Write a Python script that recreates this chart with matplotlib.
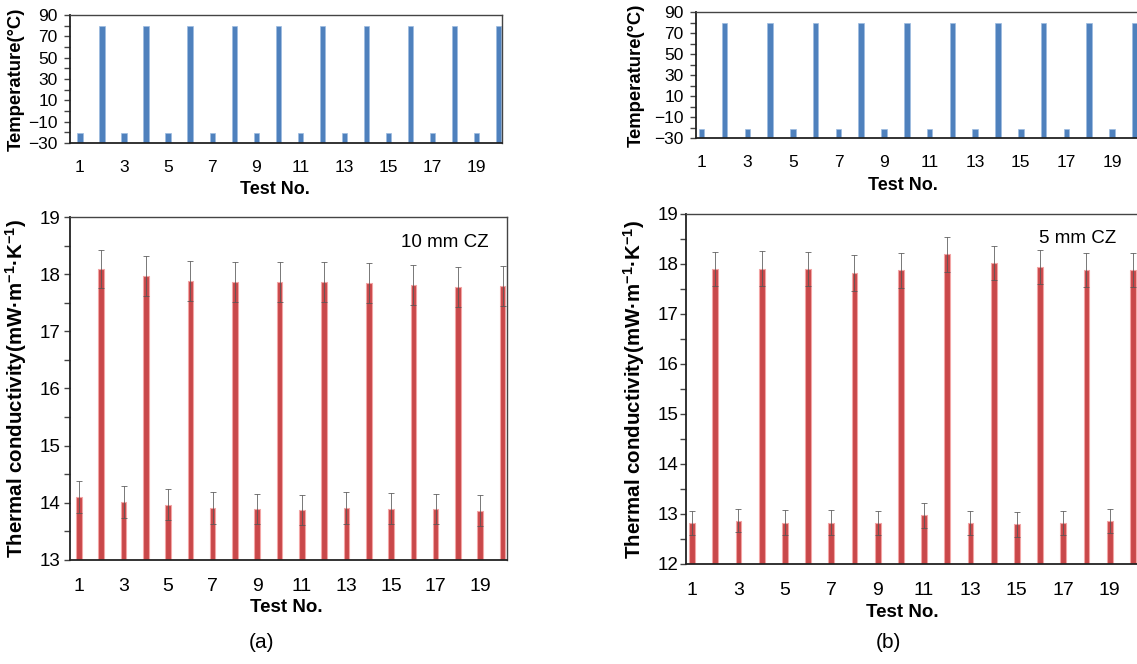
import matplotlib
matplotlib.use("Agg")
import matplotlib.pyplot as plt
from matplotlib.ticker import MultipleLocator

plt.rcParams['font.family'] = ['Liberation Sans', 'DejaVu Sans']
plt.rcParams['mathtext.fontset'] = 'custom'
plt.rcParams['mathtext.rm'] = 'Liberation Sans:bold'
plt.rcParams['mathtext.bf'] = 'Liberation Sans:bold'
plt.rcParams['mathtext.it'] = 'Liberation Sans:bold'

# ---------------- data ----------------
tests = list(range(1, 21))
temp_a = [-21, 80, -21, 80, -21, 80, -21, 80, -21, 80, -21, 80, -21, 80, -21, 80, -21, 80, -21, 80]
temp_b = [-21, 80, -21, 80, -21, 80, -21, 80, -21, 80, -21, 80, -21, 80, -21, 80, -21, 80, -21, 80]

tc_a = [14.10, 18.09, 14.01, 17.96, 13.97, 17.88, 13.91, 17.86, 13.89, 17.87,
        13.88, 17.86, 13.91, 17.84, 13.90, 17.81, 13.89, 17.78, 13.86, 17.79]
err_a = [0.28, 0.34, 0.28, 0.35, 0.27, 0.35, 0.28, 0.35, 0.26, 0.35,
         0.26, 0.35, 0.28, 0.35, 0.27, 0.35, 0.26, 0.35, 0.27, 0.35]

tc_b = [12.83, 17.91, 12.87, 17.91, 12.83, 17.91, 12.83, 17.82, 12.82, 17.87,
        12.98, 18.20, 12.82, 18.01, 12.80, 17.95, 12.82, 17.88, 12.86, 17.88]
err_b = [0.24, 0.34, 0.23, 0.35, 0.25, 0.34, 0.25, 0.35, 0.24, 0.35,
         0.25, 0.35, 0.24, 0.34, 0.25, 0.34, 0.24, 0.34, 0.24, 0.34]

xticks = [1, 3, 5, 7, 9, 11, 13, 15, 17, 19]
temp_ticks = [-30, -10, 10, 30, 50, 70, 90]

BLUE = '#4F81BD'
RED = '#C9484A'
RED_EDGE = '#F3A5A5'

W, H = 1137, 664
fig = plt.figure(figsize=(W / 100, H / 100), dpi=100)


def rect(l, t, r, b):
    return [l / W, 1 - b / H, (r - l) / W, (b - t) / H]


def style(ax, xfs, yfs, ypad, xpad):
    for s in ['left', 'bottom']:
        ax.spines[s].set_color('#222222')
        ax.spines[s].set_linewidth(1.3)
    for s in ['top', 'right']:
        ax.spines[s].set_color('#444444')
        ax.spines[s].set_linewidth(1.0)
    ax.tick_params(axis='x', length=0, labelsize=xfs, pad=xpad)
    ax.tick_params(axis='y', which='major', length=4, width=1, color='#444444',
                   labelsize=yfs, pad=ypad, direction='out')
    ax.tick_params(axis='y', which='minor', length=4, width=1, color='#444444', direction='out')


# ---- (a) top
ax1 = fig.add_axes(rect(70, 15, 502, 143))
ax1.bar(tests, [t + 30 for t in temp_a], bottom=-30, width=0.24, color=BLUE,
        edgecolor='#9DBBE0', linewidth=0.5)
ax1.set_ylim(-30, 90)
ax1.set_xlim(0.55, 20.15)
ax1.set_yticks(temp_ticks)
ax1.yaxis.set_minor_locator(MultipleLocator(10))
ax1.set_xticks(xticks)
style(ax1, 12.5, 12.5, 5, 12)
ax1.set_ylabel('Temperature(°C)', fontsize=13.3, fontweight='bold')
ax1.yaxis.set_label_coords(-0.104, 0.5)
ax1.set_xlabel('Test No.', fontsize=13, fontweight='bold', va='top')
ax1.xaxis.set_label_coords(0.475, -0.30)

# ---- (a) bottom
ax2 = fig.add_axes(rect(70, 217, 507, 560))
ax2.bar(tests, [v - 13 for v in tc_a], bottom=13, width=0.25, color=RED,
        edgecolor=RED_EDGE, linewidth=0.8)
ax2.errorbar(tests, tc_a, yerr=err_a, fmt='none', ecolor='#555555', elinewidth=0.7,
             capsize=2, capthick=0.7, alpha=0.8)
ax2.set_ylim(13, 19)
ax2.set_xlim(0.6, 20.2)
ax2.yaxis.set_major_locator(MultipleLocator(1))
ax2.yaxis.set_minor_locator(MultipleLocator(0.5))
ax2.set_xticks(xticks)
style(ax2, 14, 13.5, 3, 13)
ax2.set_ylabel(r'Thermal conductivity(mW·m$^{-1}$·K$^{-1}$)', fontsize=14.8, fontweight='bold')
ax2.yaxis.set_label_coords(-0.094, 0.5)
ax2.set_xlabel('Test No.', fontsize=13.5, fontweight='bold', va='top')
ax2.xaxis.set_label_coords(0.495, -0.115)
ax2.text(0.957, 0.95, '10 mm CZ', transform=ax2.transAxes, ha='right', va='top', fontsize=13.5)

# ---- (b) top
ax3 = fig.add_axes(rect(696, 12, 1137, 138))
ax3.bar(tests, [t + 30 for t in temp_b], bottom=-30, width=0.24, color=BLUE,
        edgecolor='#9DBBE0', linewidth=0.5)
ax3.set_ylim(-30, 90)
ax3.set_xlim(0.75, 20.1)
ax3.set_yticks(temp_ticks)
ax3.yaxis.set_minor_locator(MultipleLocator(10))
ax3.set_xticks(xticks)
style(ax3, 12.5, 12.5, 5, 12)
ax3.spines['right'].set_visible(False)
ax3.set_ylabel('Temperature(°C)', fontsize=13.3, fontweight='bold')
ax3.yaxis.set_label_coords(-0.116, 0.5)
ax3.set_xlabel('Test No.', fontsize=13, fontweight='bold', va='top')
ax3.xaxis.set_label_coords(0.469, -0.31)

# ---- (b) bottom
ax4 = fig.add_axes(rect(686, 214, 1137, 564))
ax4.bar(tests, [v - 12 for v in tc_b], bottom=12, width=0.25, color=RED,
        edgecolor=RED_EDGE, linewidth=0.8)
ax4.errorbar(tests, tc_b, yerr=err_b, fmt='none', ecolor='#555555', elinewidth=0.7,
             capsize=2, capthick=0.7, alpha=0.8)
ax4.set_ylim(12, 19)
ax4.set_xlim(0.74, 20.18)
ax4.yaxis.set_major_locator(MultipleLocator(1))
ax4.yaxis.set_minor_locator(MultipleLocator(0.5))
ax4.set_xticks(xticks)
style(ax4, 14, 13.5, 1.5, 13)
ax4.spines['right'].set_visible(False)
ax4.set_ylabel(r'Thermal conductivity(mW·m$^{-1}$·K$^{-1}$)', fontsize=14.8, fontweight='bold')
ax4.yaxis.set_label_coords(-0.086, 0.5)
ax4.set_xlabel('Test No.', fontsize=13.5, fontweight='bold', va='top')
ax4.xaxis.set_label_coords(0.479, -0.115)
ax4.text(0.955, 0.955, '5 mm CZ', transform=ax4.transAxes, ha='right', va='top', fontsize=13.5)

fig.text(262 / W, 1 - 643 / H, '(a)', ha='center', va='center', fontsize=15)
fig.text(888 / W, 1 - 643 / H, '(b)', ha='center', va='center', fontsize=15)

fig.savefig('out.png', dpi=100)
